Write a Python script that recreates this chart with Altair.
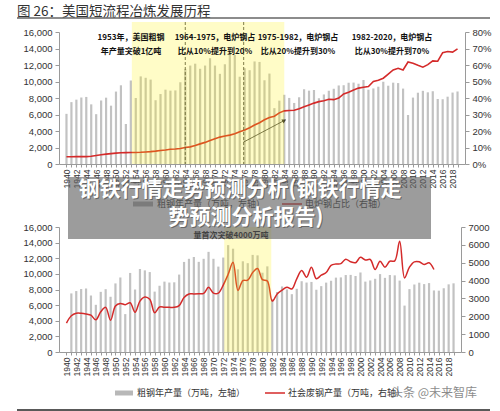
import altair as alt
import pandas as pd

# ---------------------------------------------------------------- data
YEARS = list(range(1940, 2020))

# US crude steel output, 10k tonnes (left axis of both panels)
CRUDE_STEEL = [
    6080, 7500, 7800, 8060, 8130, 7230, 6040, 7700, 8040, 7070,
    8780, 9540, 4850, 10120, 8000, 10620, 10450, 10230, 7730, 8480,
    9010, 8890, 8920, 9910, 11530, 11930, 12160, 11540, 11930, 12820,
    11930, 10930, 12090, 13680, 13220, 10580, 11610, 11370, 12430, 12370,
    10150, 10960, 6770, 7680, 8390, 8010, 7400, 8090, 9060, 8890,
    8970, 7970, 8430, 8880, 9120, 9520, 9550, 9850, 9870, 9730,
    10180, 9010, 9160, 9370, 9970, 9490, 9860, 9810, 9140, 5940,
    8050, 8640, 8870, 8690, 8820, 7880, 7850, 8160, 8660, 8790,
]

# electric-arc-furnace share of output, % (right axis, upper panel)
EAF_SHARE = [
    4.4, 4.4, 4.5, 4.5, 4.5, 4.7, 5.2, 5.6, 6.0, 6.3,
    6.6, 6.8, 6.9, 7.0, 7.0, 7.1, 7.3, 7.5, 7.8, 8.2,
    8.5, 8.9, 9.1, 9.4, 10.0, 10.4, 11.2, 12.2, 13.1, 14.2,
    15.3, 16.3, 17.0, 17.5, 18.3, 19.5, 20.6, 22.0, 23.6, 25.0,
    26.8, 28.2, 29.0, 31.0, 32.2, 32.4, 32.6, 33.5, 34.7, 35.8,
    36.9, 37.8, 38.3, 39.2, 39.0, 40.0, 42.5, 43.5, 44.8, 46.0,
    46.5, 47.0, 50.0, 50.8, 52.0, 54.5, 57.0, 58.0, 57.0, 61.8,
    61.0, 59.8, 58.7, 60.2, 62.5, 62.3, 67.5, 68.2, 67.8, 69.8,
]

# obsolete scrap generated, 10k tonnes, 1940-2015 (right axis, lower panel)
SCRAP = [
    1620, 2030, 2170, 2170, 2130, 2060, 1800, 2250, 2500, 1780,
    2580, 2720, 2650, 2760, 2220, 2850, 3080, 2950, 2200, 2520,
    2510, 2500, 2500, 2600, 3050, 3250, 3250, 3260, 3280, 3620,
    3300, 3300, 3750, 4350, 5030, 3450, 4000, 4020, 4450, 4680,
    4050, 3980, 2850, 3250, 3470, 3620, 3530, 4100, 4560, 4190,
    4750, 4100, 4300, 4450, 4850, 4930, 4950, 5200, 5050, 5000,
    5300, 5150, 5180, 4620, 5080, 4750, 5080, 5100, 6200, 4150,
    4750, 5050, 5050, 4900, 5000, 4620,
]

# shaded periods and markers
TOP_BAND = {"start": [1953.2], "end": [1984.0]}
TOP_MARKERS = [1964.0, 1975.8]
TOP_ARROW = {"x0": [1975.8], "x1": [1984.0]}
BOTTOM_BAND = {"start": [1972.2], "end": [1981.8]}

TITLE = "图 26：美国短流程冶炼发展历程"
TOP_NOTES = [
    ("1953年，美国粗钢", "年产量突破1亿吨"),
    ("1964-1975，电炉钢占", "比从10%提升到20%"),
    ("1975-1982，电炉钢占", "比从20%提升到30%"),
    ("1982-2020，电炉钢占", "比从30%提升到70%"),
]
BOTTOM_NOTE = "量首次突破4000万吨"
LEGEND_CRUDE = "粗钢年产量（万吨，左轴）"
LEGEND_EAF = "电炉钢占比（右轴）"
LEGEND_SCRAP = "社会废钢产量（万吨，右轴）"
BANNER = ("钢铁行情走势预测分析(钢铁行情走", "势预测分析报告)")
WATERMARK = "头条 @未来智库"

# ---------------------------------------------------------------- style
CJK = "Noto Sans CJK SC"
NUM = "Liberation Sans"
BAR_GRAY = "#c2c2c2"
RED = "#d42a2a"
AXIS_GRAY = "#9a9a9a"

W1, H1 = 406, 132      # upper plot area
W2, H2 = 402, 125      # lower plot area

ONE = alt.Data(values=[{"k": 0}])


def note(text, x, y, size=8, weight="bold", color="#111", align="center",
         font=CJK, opacity=1.0):
    return alt.Chart(ONE).mark_text(
        text=text, fontSize=size, fontWeight=weight, color=color, align=align,
        baseline="middle", font=font, opacity=opacity,
    ).encode(x=alt.value(x), y=alt.value(y))


def hline(x1, x2, y, color, width):
    return alt.Chart(ONE).mark_rule(color=color, strokeWidth=width).encode(
        x=alt.value(x1), x2=alt.value(x2), y=alt.value(y))


def box(x1, x2, y1, y2, color, opacity=1.0):
    return alt.Chart(ONE).mark_rect(color=color, opacity=opacity).encode(
        x=alt.value(x1), x2=alt.value(x2), y=alt.value(y1), y2=alt.value(y2))


def year_axis():
    return alt.Axis(
        values=YEARS,
        labelExpr="datum.value % 2 === 0 ? '' + datum.value : ''",
        labelAngle=-90, labelFont=NUM, labelFontSize=8.5, labelColor="#333",
        labelOverlap=False, labelFlush=False, labelBound=False, labelPadding=2,
        tickSize=3, tickColor=AXIS_GRAY, domainColor=AXIS_GRAY, grid=False,
        title=None, zindex=1,
    )


def value_axis(values, orient, expr):
    return alt.Axis(values=values, orient=orient, labelExpr=expr,
                    labelFont=NUM, labelFontSize=9.5, labelColor="#333",
                    tickSize=4, tickColor=AXIS_GRAY, domainColor=AXIS_GRAY,
                    grid=False, title=None, labelPadding=3, zindex=1)


def yx(field, scale):
    """x channel on the shared year scale."""
    return alt.X(field, scale=scale, axis=year_axis())


# ---------------------------------------------------------------- upper panel
top_df = pd.DataFrame({"year": YEARS, "crude": CRUDE_STEEL, "eaf": EAF_SHARE})
xs1 = alt.Scale(domain=[1939.5, 2019.5], nice=False, zero=False)

top_bars = alt.Chart(top_df).mark_bar(size=2.2, color=BAR_GRAY).encode(
    x=yx("year:Q", xs1),
    y=alt.Y("crude:Q", scale=alt.Scale(domain=[0, 16000], nice=False),
            axis=value_axis(list(range(0, 16001, 2000)), "left",
                            "format(datum.value, ',')")),
)
top_line = alt.Chart(top_df).mark_line(color=RED, strokeWidth=1.6).encode(
    x=yx("year:Q", xs1),
    y=alt.Y("eaf:Q", scale=alt.Scale(domain=[0, 80], nice=False),
            axis=value_axis(list(range(0, 81, 10)), "right",
                            "datum.value + '%'")),
)
top_core = alt.layer(top_bars, top_line).resolve_scale(y="independent")

top_marks = alt.Chart(pd.DataFrame({"year": TOP_MARKERS})).mark_rule(
    color="#333", strokeDash=[3, 2], strokeWidth=0.8).encode(
    x=yx("year:Q", xs1), y=alt.value(-10), y2=alt.value(H1))
arrow_df = pd.DataFrame(TOP_ARROW)
arrow_line = alt.Chart(arrow_df).mark_rule(color="#333", strokeWidth=0.8).encode(
    x=yx("x0:Q", xs1), x2="x1:Q", y=alt.value(110), y2=alt.value(88.5))
arrow_head = alt.Chart(arrow_df).mark_point(
    shape="triangle-up", angle=62, filled=True, size=22, color="#333",
    opacity=1).encode(x=yx("x1:Q", xs1), y=alt.value(88.5))
top_band = alt.Chart(pd.DataFrame(TOP_BAND)).mark_rect(
    color="#fff200", opacity=0.22).encode(
    x=yx("start:Q", xs1), x2="end:Q", y=alt.value(-10), y2=alt.value(H1))

note_x = [72, 156, 239, 333]
top_note_layers = []
for (l1, l2), cx in zip(TOP_NOTES, note_x):
    top_note_layers.append(note(l1, cx, 6))
    top_note_layers.append(note(l2, cx, 20))

top_legend = [
    box(74, 94, 169.5, 174.5, "#a8a8a8"),
    note(LEGEND_CRUDE, 98, 172, size=9, weight="normal", color="#333", align="left"),
    hline(223, 243, 172, RED, 1.5),
    note(LEGEND_EAF, 246, 172, size=9, weight="normal", color="#333", align="left"),
]

top = alt.layer(
    # invisible frame spanning the whole page fixes the overall extent
    box(-59, 441, -32, 379, "white", opacity=0),
    note(TITLE, -42, -20, size=13.5, weight="normal", color="#333", align="left"),
    hline(-42, 431, -14, "#666", 1.6),
    hline(-42, 431, 378, "#222", 1.4),
    top_core, top_marks, arrow_line, arrow_head, top_band,
    *top_note_layers, *top_legend,
).properties(width=W1, height=H1)

# ---------------------------------------------------------------- lower panel
bot_df = pd.DataFrame({"year": YEARS, "crude": CRUDE_STEEL})
scrap_df = pd.DataFrame({"year": YEARS[:len(SCRAP)], "scrap": SCRAP})
xs2 = alt.Scale(domain=[1939.5, 2019.5], nice=False, zero=False)

bot_bars = alt.Chart(bot_df).transform_filter("datum.year > 1940").mark_bar(
    size=2.2, color=BAR_GRAY).encode(
    x=yx("year:Q", xs2),
    y=alt.Y("crude:Q", scale=alt.Scale(domain=[0, 16000], nice=False),
            axis=value_axis(list(range(0, 16001, 2000)), "left",
                            "format(datum.value, ',')")),
)
bot_line = alt.Chart(scrap_df).mark_line(
    color=RED, strokeWidth=1.5, interpolate="catmull-rom").encode(
    x=yx("year:Q", xs2),
    y=alt.Y("scrap:Q", scale=alt.Scale(domain=[0, 7000], nice=False),
            axis=value_axis(list(range(0, 7001, 1000)), "right",
                            "'' + datum.value")),
)
bot_core = alt.layer(bot_bars, bot_line).resolve_scale(y="independent")

bot_band = alt.Chart(pd.DataFrame(BOTTOM_BAND)).mark_rect(
    color="#fff200", opacity=0.22).encode(
    x=yx("start:Q", xs2), x2="end:Q", y=alt.value(0), y2=alt.value(H2))

bot_legend = [
    box(56, 74, 163.5, 168.5, "#b8b8b8"),
    note(LEGEND_CRUDE, 78, 166, size=9, weight="normal", color="#333", align="left"),
    hline(206, 226, 166, RED, 1.5),
    note(LEGEND_SCRAP, 229, 166, size=9, weight="normal", color="#333", align="left"),
    note(WATERMARK, 375, 166, size=12, weight="normal", color="#777",
         opacity=0.85),
]

# headline banner laid across the two panels
banner = [
    box(9, 372, -50, 12, "#606060", opacity=0.62),
    note(BANNER[0], 182, -36, size=21, color="#444", opacity=0.6),
    note(BANNER[0], 181, -37, size=21, color="white"),
    note(BANNER[1], 188, -8, size=21, color="#444", opacity=0.6),
    note(BANNER[1], 187, -9, size=21, color="white"),
]

bottom = alt.layer(
    bot_core, bot_band,
    note(BOTTOM_NOTE, 172, 9),
    *bot_legend, *banner,
).properties(width=W2, height=H2)

chart = alt.vconcat(top, bottom, spacing=63, bounds="flush").properties(
    padding=0).configure_view(strokeWidth=0)

chart.save("out.html", embed_options={"renderer": "svg", "actions": False})
